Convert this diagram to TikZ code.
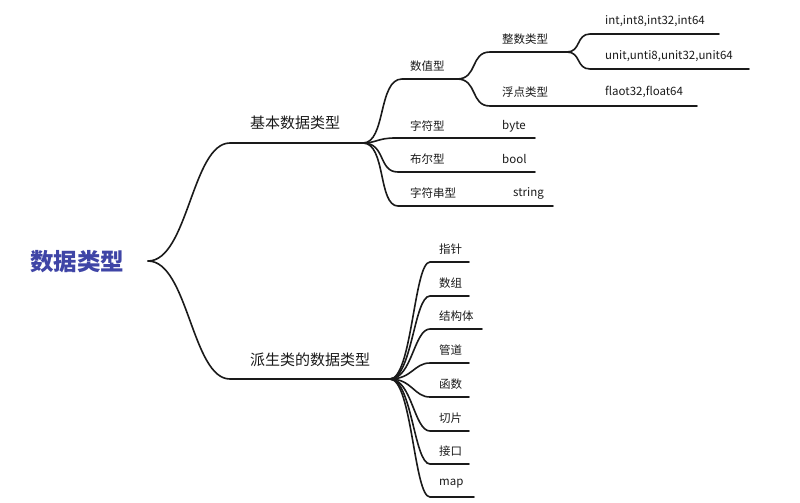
\documentclass[tikz,border=0pt]{standalone}
\usepackage{fontspec}
\setmainfont{Noto Sans CJK SC}
\definecolor{rootblue}{HTML}{3F45A6}
\definecolor{ink}{HTML}{1A1A1A}
\begin{document}
\begin{tikzpicture}[x=1pt,y=-1pt,
  link/.style={draw=ink,line width=1.6pt,line cap=round},
  lbl/.style={anchor=west,inner sep=0pt,font=\fontsize{11.5}{12}\selectfont,text=ink},
  mid/.style={anchor=west,inner sep=0pt,font=\fontsize{15}{16}\selectfont,text=ink},
  rootlbl/.style={anchor=west,inner sep=0pt,font=\fontsize{23.5}{25}\selectfont\bfseries,text=rootblue}]
\useasboundingbox (0,0) rectangle (800,503);
% root
\node[rootlbl] (root) at (30,262) {数据类型};
\coordinate (r) at (148,261);
% level 1
\coordinate (b1s) at (230,143); \coordinate (b1e) at (363,143);
\coordinate (b2s) at (230,379); \coordinate (b2e) at (390,379);
\node[mid] (b1) at (250,123) {基本数据类型};
\node[mid] (b2) at (250,360) {派生类的数据类型};
\draw[link] (r) .. controls (188,261) and (192,143) .. (b1s) -- (b1e);
\draw[link] (r) .. controls (188,261) and (192,379) .. (b2s) -- (b2e);
% children of 基本数据类型
\coordinate (c1s) at (402,79);  \coordinate (c1e) at (457,79);
\coordinate (c2s) at (395,138); \coordinate (c2e) at (535,138);
\coordinate (c3s) at (398,172); \coordinate (c3e) at (535,172);
\coordinate (c4s) at (398,206); \coordinate (c4e) at (553,206);
\node[lbl] (c1) at (410,66) {数值型};
\node[lbl] (c2) at (410,126) {字符型};
\node[lbl] (c2v) at (502,126) {byte};
\node[lbl] (c3) at (410,159) {布尔型};
\node[lbl] (c3v) at (502,159) {bool};
\node[lbl] (c4) at (410,193) {字符串型};
\node[lbl] (c4v) at (513,193) {string};
\draw[link] (b1e) .. controls (386,143) and (378,79) .. (c1s) -- (c1e);
\draw[link] (b1e) .. controls (376,143) and (378,138) .. (c2s) -- (c2e);
\draw[link] (b1e) .. controls (386,143) and (378,172) .. (c3s) -- (c3e);
\draw[link] (b1e) .. controls (386,143) and (378,206) .. (c4s) -- (c4e);
% children of 数值型
\coordinate (d1s) at (490,52);  \coordinate (d1e) at (567,52);
\coordinate (d2s) at (490,106); \coordinate (d2e) at (697,106);
\node[lbl] (d1) at (502,39) {整数类型};
\node[lbl] (d2) at (502,92) {浮点类型};
\node[lbl] (d2v) at (605,92) {flaot32,float64};
\draw[link] (c1e) .. controls (478,79) and (470,52) .. (d1s) -- (d1e);
\draw[link] (c1e) .. controls (478,79) and (470,106) .. (d2s) -- (d2e);
% children of 整数类型
\coordinate (e1s) at (590,34); \coordinate (e1e) at (719,34);
\coordinate (e2s) at (590,69); \coordinate (e2e) at (749,69);
\node[lbl] (e1) at (605,21) {int,int8,int32,int64};
\node[lbl] (e2) at (605,56) {unit,unti8,unit32,unit64};
\draw[link] (d1e) .. controls (581,52) and (576,34) .. (e1s) -- (e1e);
\draw[link] (d1e) .. controls (581,52) and (576,69) .. (e2s) -- (e2e);
% children of 派生类的数据类型
\foreach \name/\txt/\y/\xe in {f1/指针/262/469, f2/数组/296/469, f3/结构体/329/482, f4/管道/363/469, f5/函数/397/469, f6/切片/431/469, f7/接口/464/469, f8/map/497/474}{
  \coordinate (\name s) at (430,\y);
  \coordinate (\name e) at (\xe,\y);
  \node[lbl] (\name) at (439,\y-13) {\txt};
  \draw[link] (b2e) .. controls (412,379) and (414,\y) .. (\name s) -- (\name e);
}
\end{tikzpicture}
\end{document}
